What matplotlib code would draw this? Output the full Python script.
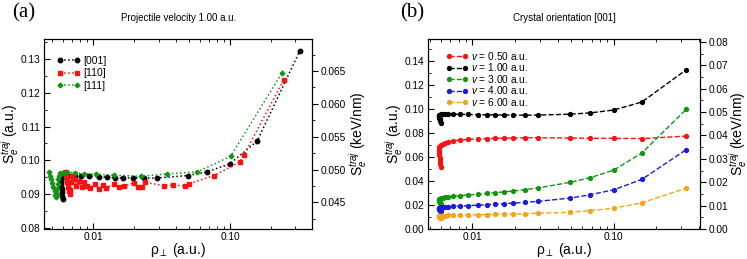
import numpy as np
import matplotlib
matplotlib.use("Agg")
import matplotlib.pyplot as plt
from matplotlib.ticker import FixedLocator, FixedFormatter, MultipleLocator, LogLocator, NullFormatter

plt.rcParams['font.family'] = ['Liberation Sans', 'DejaVu Sans']
plt.rcParams['mathtext.fontset'] = 'custom'
plt.rcParams['mathtext.rm'] = 'Liberation Sans'
plt.rcParams['mathtext.it'] = 'Liberation Sans:italic'

# wspolczynnik a.u. -> keV/nm (prawa os)
au2kev = 0.514

# wspolna siatka rho dla orientacji [001]
rho_001 = [0.00598, 0.00594, 0.00590, 0.00586, 0.00582, 0.00579, 0.00577, 0.00577,
           0.00580, 0.00587, 0.00600, 0.00620, 0.00645,
           0.00676, 0.00734, 0.00819, 0.00937, 0.0110, 0.0126, 0.0145, 0.0166,
           0.0195, 0.0236, 0.0293, 0.0491, 0.0681, 0.100, 0.158, 0.325]

# panel (b): rozne predkosci
s_v050 = [0.0516, 0.0540, 0.0565, 0.0590, 0.0612, 0.0632, 0.0650, 0.0665,
          0.0678, 0.0690, 0.0700, 0.0708, 0.0714,
          0.0720, 0.0734, 0.0740, 0.0746, 0.0750, 0.0752, 0.0754, 0.0756,
          0.0757, 0.0759, 0.0759, 0.0757, 0.0755, 0.0754, 0.0752, 0.0773]
s_v100 = [0.0885, 0.0895, 0.0905, 0.0915, 0.0924, 0.0932, 0.0939, 0.0944,
          0.0948, 0.0951, 0.0953, 0.0954, 0.0955,
          0.0955, 0.0955, 0.0954, 0.0953, 0.0951, 0.0950, 0.0949, 0.0948,
          0.0948, 0.0947, 0.0948, 0.0955, 0.0966, 0.0990, 0.1057, 0.1325]
s_v300 = [0.0205, 0.0212, 0.0219, 0.0225, 0.0231, 0.0236, 0.0241, 0.0245,
          0.0249, 0.0253, 0.0257, 0.0261, 0.0264,
          0.0267, 0.0272, 0.0277, 0.0282, 0.0290, 0.0296, 0.0302, 0.0308,
          0.0316, 0.0327, 0.0342, 0.0388, 0.0427, 0.0490, 0.0633, 0.0996]
s_v400 = [0.0148, 0.0152, 0.0156, 0.0160, 0.0164, 0.0167, 0.0170, 0.0173,
          0.0175, 0.0177, 0.0179, 0.0181, 0.0183,
          0.0185, 0.0188, 0.0191, 0.0194, 0.0198, 0.0202, 0.0206, 0.0210,
          0.0215, 0.0221, 0.0230, 0.0257, 0.0285, 0.0326, 0.0413, 0.0660]
s_v600 = [0.0092, 0.0094, 0.0096, 0.0098, 0.0100, 0.0102, 0.0104, 0.0105,
          0.0107, 0.0108, 0.0109, 0.0110, 0.0111,
          0.0112, 0.0114, 0.0115, 0.0116, 0.0118, 0.0119, 0.0121, 0.0122,
          0.0124, 0.0126, 0.0131, 0.0139, 0.0153, 0.0173, 0.0218, 0.0340]

# panel (a): v = 1.00, rozne orientacje
rho_110 = [0.0062, 0.0063, 0.0064, 0.0065, 0.0066, 0.0067, 0.0068, 0.0069, 0.0070,
           0.0072, 0.0075, 0.0078, 0.0082, 0.0086, 0.0090, 0.0095, 0.0102, 0.0110,
           0.0118, 0.0124, 0.0142, 0.0155, 0.0169, 0.0198, 0.0212, 0.0228, 0.0239,
           0.0330, 0.0385, 0.0470, 0.0505, 0.0763, 0.118, 0.126, 0.248]
s_110 = [0.0965, 0.0950, 0.0935, 0.0920, 0.0908, 0.0900, 0.0912, 0.0935, 0.0955,
         0.0945, 0.0925, 0.0940, 0.0920, 0.0935, 0.0925, 0.0918, 0.0930, 0.0915,
         0.0928, 0.0918, 0.0930, 0.0920, 0.0923, 0.0934, 0.0922, 0.0920, 0.0935,
         0.0925, 0.0927, 0.0924, 0.0931, 0.0955, 0.0995, 0.1015, 0.1239]

rho_111 = [0.00475, 0.00480, 0.00490, 0.00500, 0.00510, 0.00520, 0.00528, 0.00533,
           0.00540, 0.00545, 0.00550, 0.00555, 0.00560, 0.00570,
           0.00600, 0.00646, 0.00730, 0.00855, 0.0104, 0.0142, 0.0222, 0.0348,
           0.0576, 0.101, 0.241]
s_111 = [0.0965, 0.0955, 0.0945, 0.0932, 0.0920, 0.0908, 0.0898, 0.0892,
         0.0900, 0.0915, 0.0930, 0.0945, 0.0955, 0.0962,
         0.0964, 0.0965, 0.0963, 0.0961, 0.0959, 0.0956, 0.0953, 0.0960,
         0.0966, 0.1012, 0.1260]

fig = plt.figure(figsize=(7.47, 2.59), dpi=100)
axa = fig.add_axes([0.059, 0.116, 0.359, 0.733])
axb = fig.add_axes([0.573, 0.116, 0.364, 0.733])

# ---- panel (a) ----
axa.plot(rho_001, s_v100, ':', color='black', marker='o', ms=3.2, lw=1.1, label='[001]')
axa.plot(rho_110, s_110, ':', color='#ff1010', marker='s', ms=3.2, lw=1.1, label='[110]')
axa.plot(rho_111, s_111, ':', color='#129612', marker='D', ms=2.4, lw=1.1, label='[111]')
axa.set_xscale('log')
axa.set_xlim(0.00436, 0.40)
axa.set_ylim(0.0797, 0.1359)
axa.yaxis.set_major_locator(MultipleLocator(0.01))
axa.yaxis.set_minor_locator(MultipleLocator(0.005))
axa.yaxis.set_major_formatter(plt.FormatStrFormatter('%.2f'))
axa.set_ylabel(r'S$_e^{traj}$ (a.u.)', fontsize=10, labelpad=0)
axa.set_title('Projectile velocity 1.00 a.u.', fontsize=7, pad=13)
axa.legend(loc='upper left', frameon=False, fontsize=7.5, numpoints=2,
           handlelength=2.2, handletextpad=0.3, labelspacing=0.25,
           borderaxespad=0.3, bbox_to_anchor=(0.02, 0.95))

axa2 = axa.twinx()
axa2.set_ylim(0.0797 * au2kev, 0.1359 * au2kev)
axa2.yaxis.set_major_locator(MultipleLocator(0.005))
axa2.yaxis.set_minor_locator(MultipleLocator(0.0025))
axa2.yaxis.set_major_formatter(plt.FormatStrFormatter('%.3f'))
axa2.set_ylabel(r'S$_e^{traj}$ (keV/nm)', fontsize=10, labelpad=1)

# ---- panel (b) ----
axb.plot(rho_001, s_v050, '--', color='#ff1010', marker='o', ms=2.8, lw=1, label=r'$v$ = 0.50 a.u.')
axb.plot(rho_001, s_v100, '--', color='black', marker='o', ms=2.8, lw=1, label=r'$v$ = 1.00 a.u.')
axb.plot(rho_001, s_v300, '--', color='#129612', marker='o', ms=2.8, lw=1, label=r'$v$ = 3.00 a.u.')
axb.plot(rho_001, s_v400, '--', color='#1a1ae6', marker='o', ms=2.8, lw=1, label=r'$v$ = 4.00 a.u.')
axb.plot(rho_001, s_v600, '--', color='#f5a31a', marker='o', ms=2.8, lw=1, label=r'$v$ = 6.00 a.u.')
axb.set_xscale('log')
axb.set_xlim(0.00486, 0.406)
axb.set_ylim(0.0, 0.158)
axb.yaxis.set_major_locator(MultipleLocator(0.02))
axb.yaxis.set_minor_locator(MultipleLocator(0.01))
axb.yaxis.set_major_formatter(plt.FormatStrFormatter('%.2f'))
axb.set_ylabel(r'S$_e^{traj}$ (a.u.)', fontsize=10, labelpad=0)
axb.set_title('Crystal orientation [001]', fontsize=7, pad=13)
axb.legend(loc='upper left', frameon=False, fontsize=7.3, numpoints=2,
           handlelength=2.2, handletextpad=0.3, labelspacing=-0.05,
           borderaxespad=0.3, bbox_to_anchor=(0.04, 0.98))

axb2 = axb.twinx()
axb2.set_ylim(0.0, 0.158 * au2kev)
axb2.yaxis.set_major_locator(MultipleLocator(0.01))
axb2.yaxis.set_minor_locator(MultipleLocator(0.005))
axb2.yaxis.set_major_formatter(plt.FormatStrFormatter('%.2f'))
axb2.set_ylabel(r'S$_e^{traj}$ (keV/nm)', fontsize=10, labelpad=-1)

for ax in (axa, axb):
    ax.xaxis.set_major_locator(FixedLocator([0.01, 0.1]))
    ax.xaxis.set_major_formatter(FixedFormatter(['0.01', '0.10']))
    ax.xaxis.set_minor_locator(LogLocator(base=10, subs=np.arange(2, 10)))
    ax.xaxis.set_minor_formatter(NullFormatter())
    ax.set_xlabel(r'ρ$_\perp$ (a.u.)', fontsize=10, labelpad=-1)
    ax.tick_params(which='both', direction='in', top=True, right=False, labelsize=7.3, pad=2.5)
    ax.tick_params(which='major', length=4)
    ax.tick_params(which='minor', length=2)

for ax in (axa2, axb2):
    ax.tick_params(which='both', direction='out', labelsize=7.3, pad=2)
    ax.tick_params(which='major', length=4)
    ax.tick_params(which='minor', length=2)

fig.text(0.016, 0.95, '(a)', fontsize=15, family='Liberation Serif', va='center')
fig.text(0.535, 0.95, '(b)', fontsize=15, family='Liberation Serif', va='center')

fig.savefig('out.png', dpi=100)
